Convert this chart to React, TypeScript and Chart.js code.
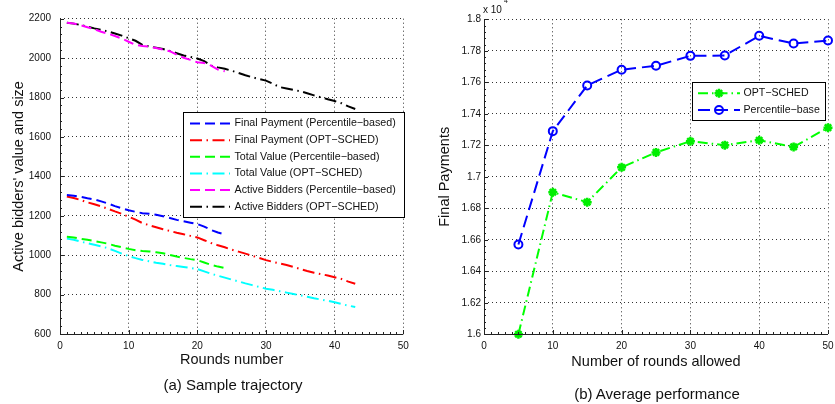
import React, { useEffect, useRef } from 'react';
import { Chart, registerables } from 'chart.js';

Chart.register(...registerables);

const FONT = '"Liberation Sans", Arial, Helvetica, sans-serif';

// ---------- (a) Sample trajectory ----------
const roundsOpt = [1, 2, 3, 4, 5, 6, 7, 8, 9, 10, 11, 12, 13, 14, 15, 16, 17, 18, 19, 20, 21, 22, 23, 24, 25, 26, 27, 28, 29, 30, 31, 32, 33, 34, 35, 36, 37, 38, 39, 40, 41, 42, 43];
const roundsPct = [1, 2, 3, 4, 5, 6, 7, 8, 9, 10, 11, 12, 13, 14, 15, 16, 17, 18, 19, 20, 21, 22, 23, 24];

const finalPaymentPct = [1305, 1302, 1296, 1289, 1283, 1273, 1262, 1249, 1238, 1228, 1220, 1213, 1210, 1205, 1198, 1189, 1179, 1172, 1165, 1158, 1145, 1128, 1115, 1105];
const finalPaymentOpt = [1298, 1290, 1280, 1268, 1258, 1248, 1235, 1222, 1210, 1195, 1180, 1163, 1152, 1142, 1132, 1123, 1114, 1106, 1098, 1090, 1076, 1062, 1050, 1040, 1028, 1018, 1008, 997, 986, 975, 966, 958, 950, 940, 930, 920, 911, 904, 897, 888, 879, 866, 855];
const totalValuePct = [1093, 1090, 1083, 1078, 1072, 1065, 1058, 1048, 1040, 1032, 1025, 1021, 1019, 1015, 1010, 1001, 993, 986, 980, 975, 963, 951, 942, 935];
const totalValueOpt = [1084, 1078, 1069, 1061, 1053, 1045, 1035, 1022, 1008, 995, 985, 976, 969, 962, 956, 950, 945, 940, 935, 930, 918, 906, 896, 886, 876, 867, 857, 848, 839, 830, 824, 817, 810, 803, 796, 789, 781, 775, 769, 761, 752, 744, 737];
const activeBiddersPct = [2180, 2176, 2167, 2157, 2147, 2134, 2124, 2112, 2099, 2083, 2067, 2061, 2058, 2051, 2043, 2035, 2017, 2002, 1991, 1979, 1975, 1962, 1942, 1933];
const activeBiddersOpt = [2180, 2175, 2168, 2160, 2151, 2143, 2135, 2125, 2114, 2101, 2088, 2067, 2059, 2053, 2046, 2036, 2025, 2013, 2006, 1998, 1985, 1962, 1953, 1946, 1936, 1925, 1913, 1903, 1894, 1886, 1870, 1853, 1846, 1839, 1832, 1822, 1811, 1801, 1791, 1782, 1771, 1755, 1742];

const labelsA = [
  'Final Payment (Percentile\u2212based)',
  'Final Payment (OPT\u2212SCHED)',
  'Total Value (Percentile\u2212based)',
  'Total Value (OPT\u2212SCHED)',
  'Active Bidders (Percentile\u2212based)',
  'Active Bidders (OPT\u2212SCHED)',
];

// ---------- (b) Average performance ----------
const roundsAllowed = [5, 10, 15, 20, 25, 30, 35, 40, 45, 50];
const optSched = [1.6, 1.6902, 1.6839, 1.706, 1.7155, 1.7226, 1.7201, 1.7232, 1.719, 1.7312];
const percentileBase = [1.657, 1.729, 1.758, 1.768, 1.7705, 1.7768, 1.777, 1.7895, 1.7846, 1.7865];
const labelsB = ['OPT\u2212SCHED', 'Percentile\u2212base'];

const DASH = [10, 5];
const DASHDOT = [12, 4.5, 1.5, 4.5];

type LegendCfg = {
  x: number; y: number; w: number; h: number;
  rowY0: number; rowStep: number;
  lineX0: number; lineX1: number; textX: number; fontSize: number;
};

function pts(xs: number[], ys: number[]) {
  return xs.map((x, i) => ({ x, y: ys[i] }));
}

function drawMarker(ctx: CanvasRenderingContext2D, style: string, x: number, y: number, r: number, color: string, lw: number) {
  ctx.save();
  ctx.setLineDash([]);
  ctx.strokeStyle = color;
  ctx.lineWidth = lw;
  ctx.beginPath();
  if (style === 'circle') {
    ctx.arc(x, y, r, 0, Math.PI * 2);
  } else {
    for (let k = 0; k < 4; k++) {
      const a = (k * Math.PI) / 4;
      ctx.moveTo(x - Math.cos(a) * r, y - Math.sin(a) * r);
      ctx.lineTo(x + Math.cos(a) * r, y + Math.sin(a) * r);
    }
  }
  ctx.stroke();
  ctx.restore();
}

function matlabPlugin(cfg: { xMinor: number; yMinor: number; legend: LegendCfg; exponent?: boolean }) {
  return {
    id: 'matlab',
    afterDraw(chart: any) {
      const ctx: CanvasRenderingContext2D = chart.ctx;
      const { left, right, top, bottom } = chart.chartArea;
      const xs = chart.scales.x;
      const ys = chart.scales.y;
      ctx.save();
      // axes
      ctx.strokeStyle = '#222';
      ctx.lineWidth = 1;
      ctx.setLineDash([]);
      ctx.beginPath();
      ctx.moveTo(Math.round(left) + 0.5, top);
      ctx.lineTo(Math.round(left) + 0.5, Math.round(bottom) + 0.5);
      ctx.lineTo(right, Math.round(bottom) + 0.5);
      ctx.stroke();
      // minor + major ticks (inward)
      ctx.beginPath();
      const nx = Math.round((xs.max - xs.min) / cfg.xMinor);
      for (let i = 0; i <= nx; i++) {
        const v = xs.min + i * cfg.xMinor;
        const px = Math.round(xs.getPixelForValue(v)) + 0.5;
        const major = Math.abs(v / 10 - Math.round(v / 10)) < 1e-6;
        ctx.moveTo(px, Math.round(bottom));
        ctx.lineTo(px, Math.round(bottom) - (major ? 4 : 2));
      }
      const ny = Math.round((ys.max - ys.min) / cfg.yMinor);
      for (let i = 0; i <= ny; i++) {
        const v = ys.min + i * cfg.yMinor;
        const py = Math.round(ys.getPixelForValue(v)) + 0.5;
        ctx.moveTo(Math.round(left), py);
        ctx.lineTo(Math.round(left) + (i % 5 === 0 ? 4 : 2), py);
      }
      ctx.stroke();

      if (cfg.exponent) {
        ctx.fillStyle = '#111';
        ctx.font = `10px ${FONT}`;
        ctx.textBaseline = 'middle';
        ctx.textAlign = 'left';
        ctx.fillText('x 10', left - 1, 10);
        ctx.font = `7px ${FONT}`;
        ctx.fillText('4', left + 20, 1);
      }

      // legend
      const L = cfg.legend;
      ctx.fillStyle = '#fff';
      ctx.fillRect(L.x, L.y, L.w, L.h);
      ctx.strokeStyle = '#000';
      ctx.lineWidth = 1;
      ctx.strokeRect(Math.round(L.x) + 0.5, Math.round(L.y) + 0.5, Math.round(L.w), Math.round(L.h));
      chart.data.datasets.forEach((ds: any, i: number) => {
        const yy = L.rowY0 + i * L.rowStep;
        ctx.strokeStyle = ds.borderColor;
        ctx.lineWidth = ds.borderWidth;
        ctx.setLineDash(ds.borderDash || []);
        ctx.beginPath();
        ctx.moveTo(L.lineX0, yy);
        ctx.lineTo(L.lineX1, yy);
        ctx.stroke();
        ctx.setLineDash([]);
        if (ds.pointRadius > 0) {
          drawMarker(ctx, ds.pointStyle, (L.lineX0 + L.lineX1) / 2, yy, ds.pointRadius, ds.pointBorderColor || ds.borderColor, ds.pointBorderWidth || 2);
        }
        ctx.fillStyle = '#111';
        ctx.font = `${L.fontSize}px ${FONT}`;
        ctx.textBaseline = 'middle';
        ctx.textAlign = 'left';
        ctx.fillText(ds.label, L.textX, yy);
      });
      ctx.restore();
    },
  };
}

const tickFont = { family: FONT, size: 10 };
const titleFont = { family: FONT, size: 14.5 };

export default function App() {
  const leftRef = useRef<HTMLCanvasElement>(null);
  const rightRef = useRef<HTMLCanvasElement>(null);

  useEffect(() => {
    const common = (label: string, xs: number[], ys: number[], color: string, dash: number[]) => ({
      label,
      data: pts(xs, ys),
      borderColor: color,
      backgroundColor: color,
      borderDash: dash,
      borderWidth: 2,
      pointRadius: 0,
      fill: false,
      tension: 0,
    });

    const left = new Chart(leftRef.current as HTMLCanvasElement, {
      type: 'line',
      data: {
        datasets: [
          common(labelsA[0], roundsPct, finalPaymentPct, '#0000ff', DASH),
          common(labelsA[1], roundsOpt, finalPaymentOpt, '#ff0000', DASHDOT),
          common(labelsA[2], roundsPct, totalValuePct, '#00ff00', DASH),
          common(labelsA[3], roundsOpt, totalValueOpt, '#00ffff', DASHDOT),
          common(labelsA[4], roundsPct, activeBiddersPct, '#ff00ff', DASH),
          common(labelsA[5], roundsOpt, activeBiddersOpt, '#000000', DASHDOT),
        ] as any,
      },
      options: {
        animation: false,
        responsive: false,
        maintainAspectRatio: false,
        layout: { padding: { left: 0, top: 18.7, right: 16.7, bottom: 0 } },
        plugins: { legend: { display: false }, tooltip: { enabled: false } },
        scales: {
          x: {
            type: 'linear', min: 0, max: 50,
            ticks: { stepSize: 10, font: tickFont, color: '#111', padding: 6, maxRotation: 0 },
            grid: { color: '#333', drawTicks: false, lineWidth: 1 },
            border: { display: false, dash: [1, 3] },
            title: { display: true, text: 'Rounds number', font: titleFont, color: '#111', padding: { top: 0, bottom: 35.3 } },
            afterFit: (s: any) => { s.height = 70; s.paddingLeft = 0; s.paddingRight = 0; },
          },
          y: {
            type: 'linear', min: 600, max: 2200,
            ticks: { stepSize: 200, font: tickFont, color: '#111', padding: 9, callback: (v: any) => String(v) },
            grid: { color: '#333', drawTicks: false, lineWidth: 1 },
            border: { display: false, dash: [1, 3] },
            title: { display: true, text: "Active bidders' value and size", font: titleFont, color: '#111', padding: { top: 10.3, bottom: 0 } },
            afterFit: (s: any) => { s.width = 60; s.paddingTop = 0; s.paddingBottom = 0; },
          },
        },
      } as any,
      plugins: [matlabPlugin({
        xMinor: 1, yMinor: 40,
        legend: { x: 183, y: 112, w: 221, h: 105, rowY0: 123.5, rowStep: 16.65, lineX0: 190, lineX1: 230, textX: 234.5, fontSize: 10.7 },
      })],
    });

    const right = new Chart(rightRef.current as HTMLCanvasElement, {
      type: 'line',
      data: {
        datasets: [
          {
            label: labelsB[0], data: pts(roundsAllowed, optSched),
            borderColor: '#00ff00', backgroundColor: '#00ff00', borderDash: [10, 4, 1.5, 4], borderWidth: 2,
            pointStyle: 'star', pointRadius: 4.5, pointBorderWidth: 2.5, pointBorderColor: '#00ee00',
            fill: false, tension: 0, clip: false,
          },
          {
            label: labelsB[1], data: pts(roundsAllowed, percentileBase),
            borderColor: '#0000ff', backgroundColor: 'rgba(0,0,0,0)', borderDash: [12, 6], borderWidth: 2,
            pointStyle: 'circle', pointRadius: 4, pointBorderWidth: 2, pointBorderColor: '#0000ff', pointBackgroundColor: 'rgba(0,0,0,0)',
            fill: false, tension: 0, clip: false,
          },
        ] as any,
      },
      options: {
        animation: false,
        responsive: false,
        maintainAspectRatio: false,
        layout: { padding: { left: 0, top: 19.3, right: 5, bottom: 0 } },
        plugins: { legend: { display: false }, tooltip: { enabled: false } },
        scales: {
          x: {
            type: 'linear', min: 0, max: 50,
            ticks: { stepSize: 10, font: tickFont, color: '#111', padding: 6, maxRotation: 0 },
            grid: { color: '#333', drawTicks: false, lineWidth: 1 },
            border: { display: false, dash: [1, 3] },
            title: { display: true, text: 'Number of rounds allowed', font: titleFont, color: '#111', padding: { top: 0, bottom: 33.6 } },
            afterFit: (s: any) => { s.height = 69.7; s.paddingLeft = 0; s.paddingRight = 0; },
          },
          y: {
            type: 'linear', min: 1.6, max: 1.8,
            ticks: { stepSize: 0.02, font: tickFont, color: '#111', padding: 3, callback: (v: any) => String(Math.round(Number(v) * 100) / 100) },
            grid: { color: '#333', drawTicks: false, lineWidth: 1 },
            border: { display: false, dash: [1, 3] },
            title: { display: true, text: 'Final Payments', font: titleFont, color: '#111', padding: { top: 16.3, bottom: 0 } },
            afterFit: (s: any) => { s.width = 64; s.paddingTop = 0; s.paddingBottom = 0; },
          },
        },
      } as any,
      plugins: [matlabPlugin({
        xMinor: 1, yMinor: 0.004, exponent: true,
        legend: { x: 272, y: 82, w: 133, h: 38, rowY0: 93.3, rowStep: 16.7, lineX0: 278, lineX1: 320, textX: 323.5, fontSize: 10.6 },
      })],
    });

    return () => {
      left.destroy();
      right.destroy();
    };
  }, []);

  const caption: React.CSSProperties = {
    position: 'absolute', textAlign: 'center', fontFamily: FONT, fontSize: 15, color: '#111', lineHeight: '18px', whiteSpace: 'nowrap',
  };

  return (
    <div style={{ position: 'fixed', left: 0, top: 0, width: 835, height: 404, background: '#fff', overflow: 'hidden' }}>
      <canvas ref={leftRef} width={420} height={404} style={{ position: 'absolute', left: 0, top: 0, width: 420, height: 404 }} />
      <canvas ref={rightRef} width={415} height={404} style={{ position: 'absolute', left: 420, top: 0, width: 415, height: 404 }} />
      <div style={{ ...caption, left: 113, width: 240, top: 376 }}>(a) Sample trajectory</div>
      <div style={{ ...caption, left: 537, width: 240, top: 385 }}>(b) Average performance</div>
    </div>
  );
}
